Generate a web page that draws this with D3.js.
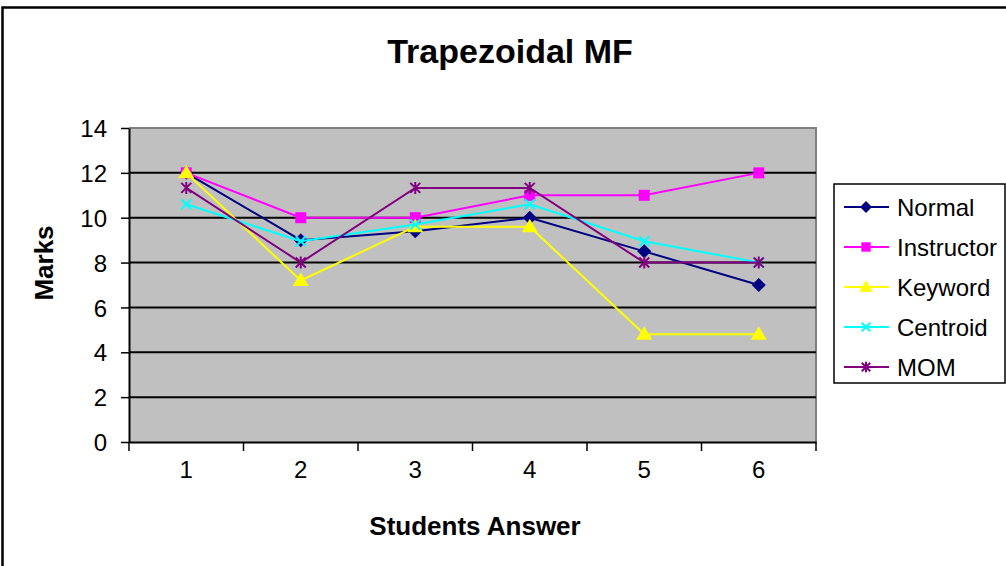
<!DOCTYPE html>
<html>
<head>
<meta charset="utf-8">
<script src="https://cdn.jsdelivr.net/npm/d3@7"></script>
<style>
  html, body { margin: 0; padding: 0; background: #fff; }
  svg { display: block; font-family: Arial, "Liberation Sans", sans-serif; }
</style>
</head>
<body>
<svg id="chart" width="1006" height="566"></svg>
<script>
// Marks per student answer, one array per scoring method
const categories = ["1", "2", "3", "4", "5", "6"];
const normal     = [12, 9, 9.4, 10, 8.5, 7];
const instructor = [12, 10, 10, 11, 11, 12];
const keyword    = [12, 7.2, 9.6, 9.6, 4.8, 4.8];
const centroid   = [10.6, 8.95, 9.7, 10.6, 8.95, 8];
const mom        = [11.33, 8, 11.33, 11.33, 8, 8];
const yTicks     = [0, 2, 4, 6, 8, 10, 12, 14];

const seriesList = [
  { name: "Normal",     values: normal,     color: "#000080", marker: "diamond" },
  { name: "Instructor", values: instructor, color: "#FF00FF", marker: "square" },
  { name: "Keyword",    values: keyword,    color: "#FFFF00", marker: "triangle" },
  { name: "Centroid",   values: centroid,   color: "#00FFFF", marker: "cross" },
  { name: "MOM",        values: mom,        color: "#800080", marker: "star" }
];

const svg = d3.select("#chart");
const plot = { left: 129, right: 816, top: 128, bottom: 442 };

// Outer chart frame
svg.append("rect")
  .attr("x", 2.5).attr("y", 7.5)
  .attr("width", 1020).attr("height", 600)
  .attr("fill", "#fff").attr("stroke", "#000").attr("stroke-width", 2.5);

const x = d3.scaleBand().domain(categories).range([plot.left, plot.right]);
const y = d3.scaleLinear().domain([0, 14]).range([plot.bottom, plot.top]);

// Plot background
svg.append("rect")
  .attr("x", plot.left).attr("y", plot.top)
  .attr("width", plot.right - plot.left).attr("height", plot.bottom - plot.top)
  .attr("fill", "#C0C0C0");

// Top/right plot border
svg.append("path")
  .attr("d", `M${plot.left},${plot.top}H${plot.right}V${plot.bottom}`)
  .attr("fill", "none").attr("stroke", "#808080").attr("stroke-width", 2);

// Horizontal gridlines
svg.append("g").selectAll("line")
  .data(yTicks.filter(d => d > 0 && d < 14))
  .join("line")
  .attr("x1", plot.left).attr("x2", plot.right)
  .attr("y1", d => y(d)).attr("y2", d => y(d))
  .attr("stroke", "#000").attr("stroke-width", 2);

// Y axis
const yAxis = svg.append("g")
  .attr("transform", `translate(${plot.left},0)`)
  .call(d3.axisLeft(y).tickValues(yTicks).tickSize(8).tickPadding(14).tickSizeOuter(0));
yAxis.select(".domain").attr("stroke", "#000").attr("stroke-width", 2);
yAxis.selectAll(".tick line").attr("stroke", "#000").attr("stroke-width", 1.5);
yAxis.selectAll(".tick text")
  .attr("font-size", 24).attr("font-family", "Arial, 'Liberation Sans', sans-serif")
  .attr("fill", "#000").attr("dy", "0.36em");

// X axis: labels at band centres, ticks at band boundaries
const xAxis = svg.append("g")
  .attr("transform", `translate(0,${plot.bottom})`)
  .call(d3.axisBottom(x).tickSize(0).tickPadding(19).tickSizeOuter(0));
xAxis.select(".domain").attr("stroke", "#000").attr("stroke-width", 2);
xAxis.selectAll(".tick text")
  .attr("font-size", 24).attr("font-family", "Arial, 'Liberation Sans', sans-serif")
  .attr("fill", "#000");
const boundaries = categories.map(c => x(c)).concat([x(categories[categories.length - 1]) + x.bandwidth()]);
xAxis.selectAll(".bound")
  .data(boundaries)
  .join("line")
  .attr("class", "bound")
  .attr("x1", d => d).attr("x2", d => d)
  .attr("y1", 0).attr("y2", 9)
  .attr("stroke", "#000").attr("stroke-width", 1.5);

// Marker shapes
function drawMarker(g, type, color, k = 1) {
  if (type === "diamond") {
    g.append("path").attr("d", `M0,${-7*k}L${7*k},0L0,${7*k}L${-7*k},0Z`).attr("fill", color);
  } else if (type === "square") {
    g.append("rect").attr("x", -5.5*k).attr("y", -5.5*k).attr("width", 11*k).attr("height", 11*k).attr("fill", color);
  } else if (type === "triangle") {
    g.append("path").attr("d", `M0,${-8*k}L${8*k},${5.5*k}L${-8*k},${5.5*k}Z`).attr("fill", color);
  } else if (type === "cross") {
    const r = 5 * k;
    g.append("path").attr("d", `M${-r},${-r}L${r},${r}M${-r},${r}L${r},${-r}`)
      .attr("stroke", color).attr("stroke-width", 2).attr("fill", "none");
  } else if (type === "star") {
    const r = 5 * k;
    g.append("path").attr("d", `M${-r},${-r}L${r},${r}M${-r},${r}L${r},${-r}M0,${-r-1}L0,${r+1}`)
      .attr("stroke", color).attr("stroke-width", 2).attr("fill", "none");
  }
}

const cx = c => x(c) + x.bandwidth() / 2;
const line = d3.line().x((d, i) => cx(categories[i])).y(d => y(d));

seriesList.forEach(s => {
  const g = svg.append("g");
  g.append("path")
    .datum(s.values)
    .attr("d", line)
    .attr("fill", "none").attr("stroke", s.color).attr("stroke-width", 2);
  s.values.forEach((v, i) => {
    const m = g.append("g").attr("transform", `translate(${cx(categories[i])},${y(v)})`);
    drawMarker(m, s.marker, s.color);
  });
});

// Title
svg.append("text")
  .attr("x", 510).attr("y", 63)
  .attr("text-anchor", "middle")
  .attr("font-size", 34).attr("font-weight", "bold")
  .text("Trapezoidal MF");

// Axis titles
svg.append("text")
  .attr("x", 475).attr("y", 535)
  .attr("text-anchor", "middle")
  .attr("font-size", 26).attr("font-weight", "bold")
  .text("Students Answer");

svg.append("text")
  .attr("transform", "translate(53,263) rotate(-90)")
  .attr("text-anchor", "middle")
  .attr("font-size", 26).attr("font-weight", "bold")
  .text("Marks");

// Legend
const legend = svg.append("g");
legend.append("rect")
  .attr("x", 834).attr("y", 184)
  .attr("width", 171).attr("height", 199)
  .attr("fill", "#fff").attr("stroke", "#000").attr("stroke-width", 1.5);

seriesList.forEach((s, i) => {
  const ly = 207 + i * 40;
  const row = legend.append("g");
  row.append("line")
    .attr("x1", 844).attr("x2", 889).attr("y1", ly).attr("y2", ly)
    .attr("stroke", s.color).attr("stroke-width", 2);
  const m = row.append("g").attr("transform", `translate(866,${ly})`);
  drawMarker(m, s.marker, s.color, 0.85);
  row.append("text")
    .attr("x", 897).attr("y", ly).attr("dy", "0.36em")
    .attr("font-size", 24)
    .text(s.name);
});
</script>
</body>
</html>
